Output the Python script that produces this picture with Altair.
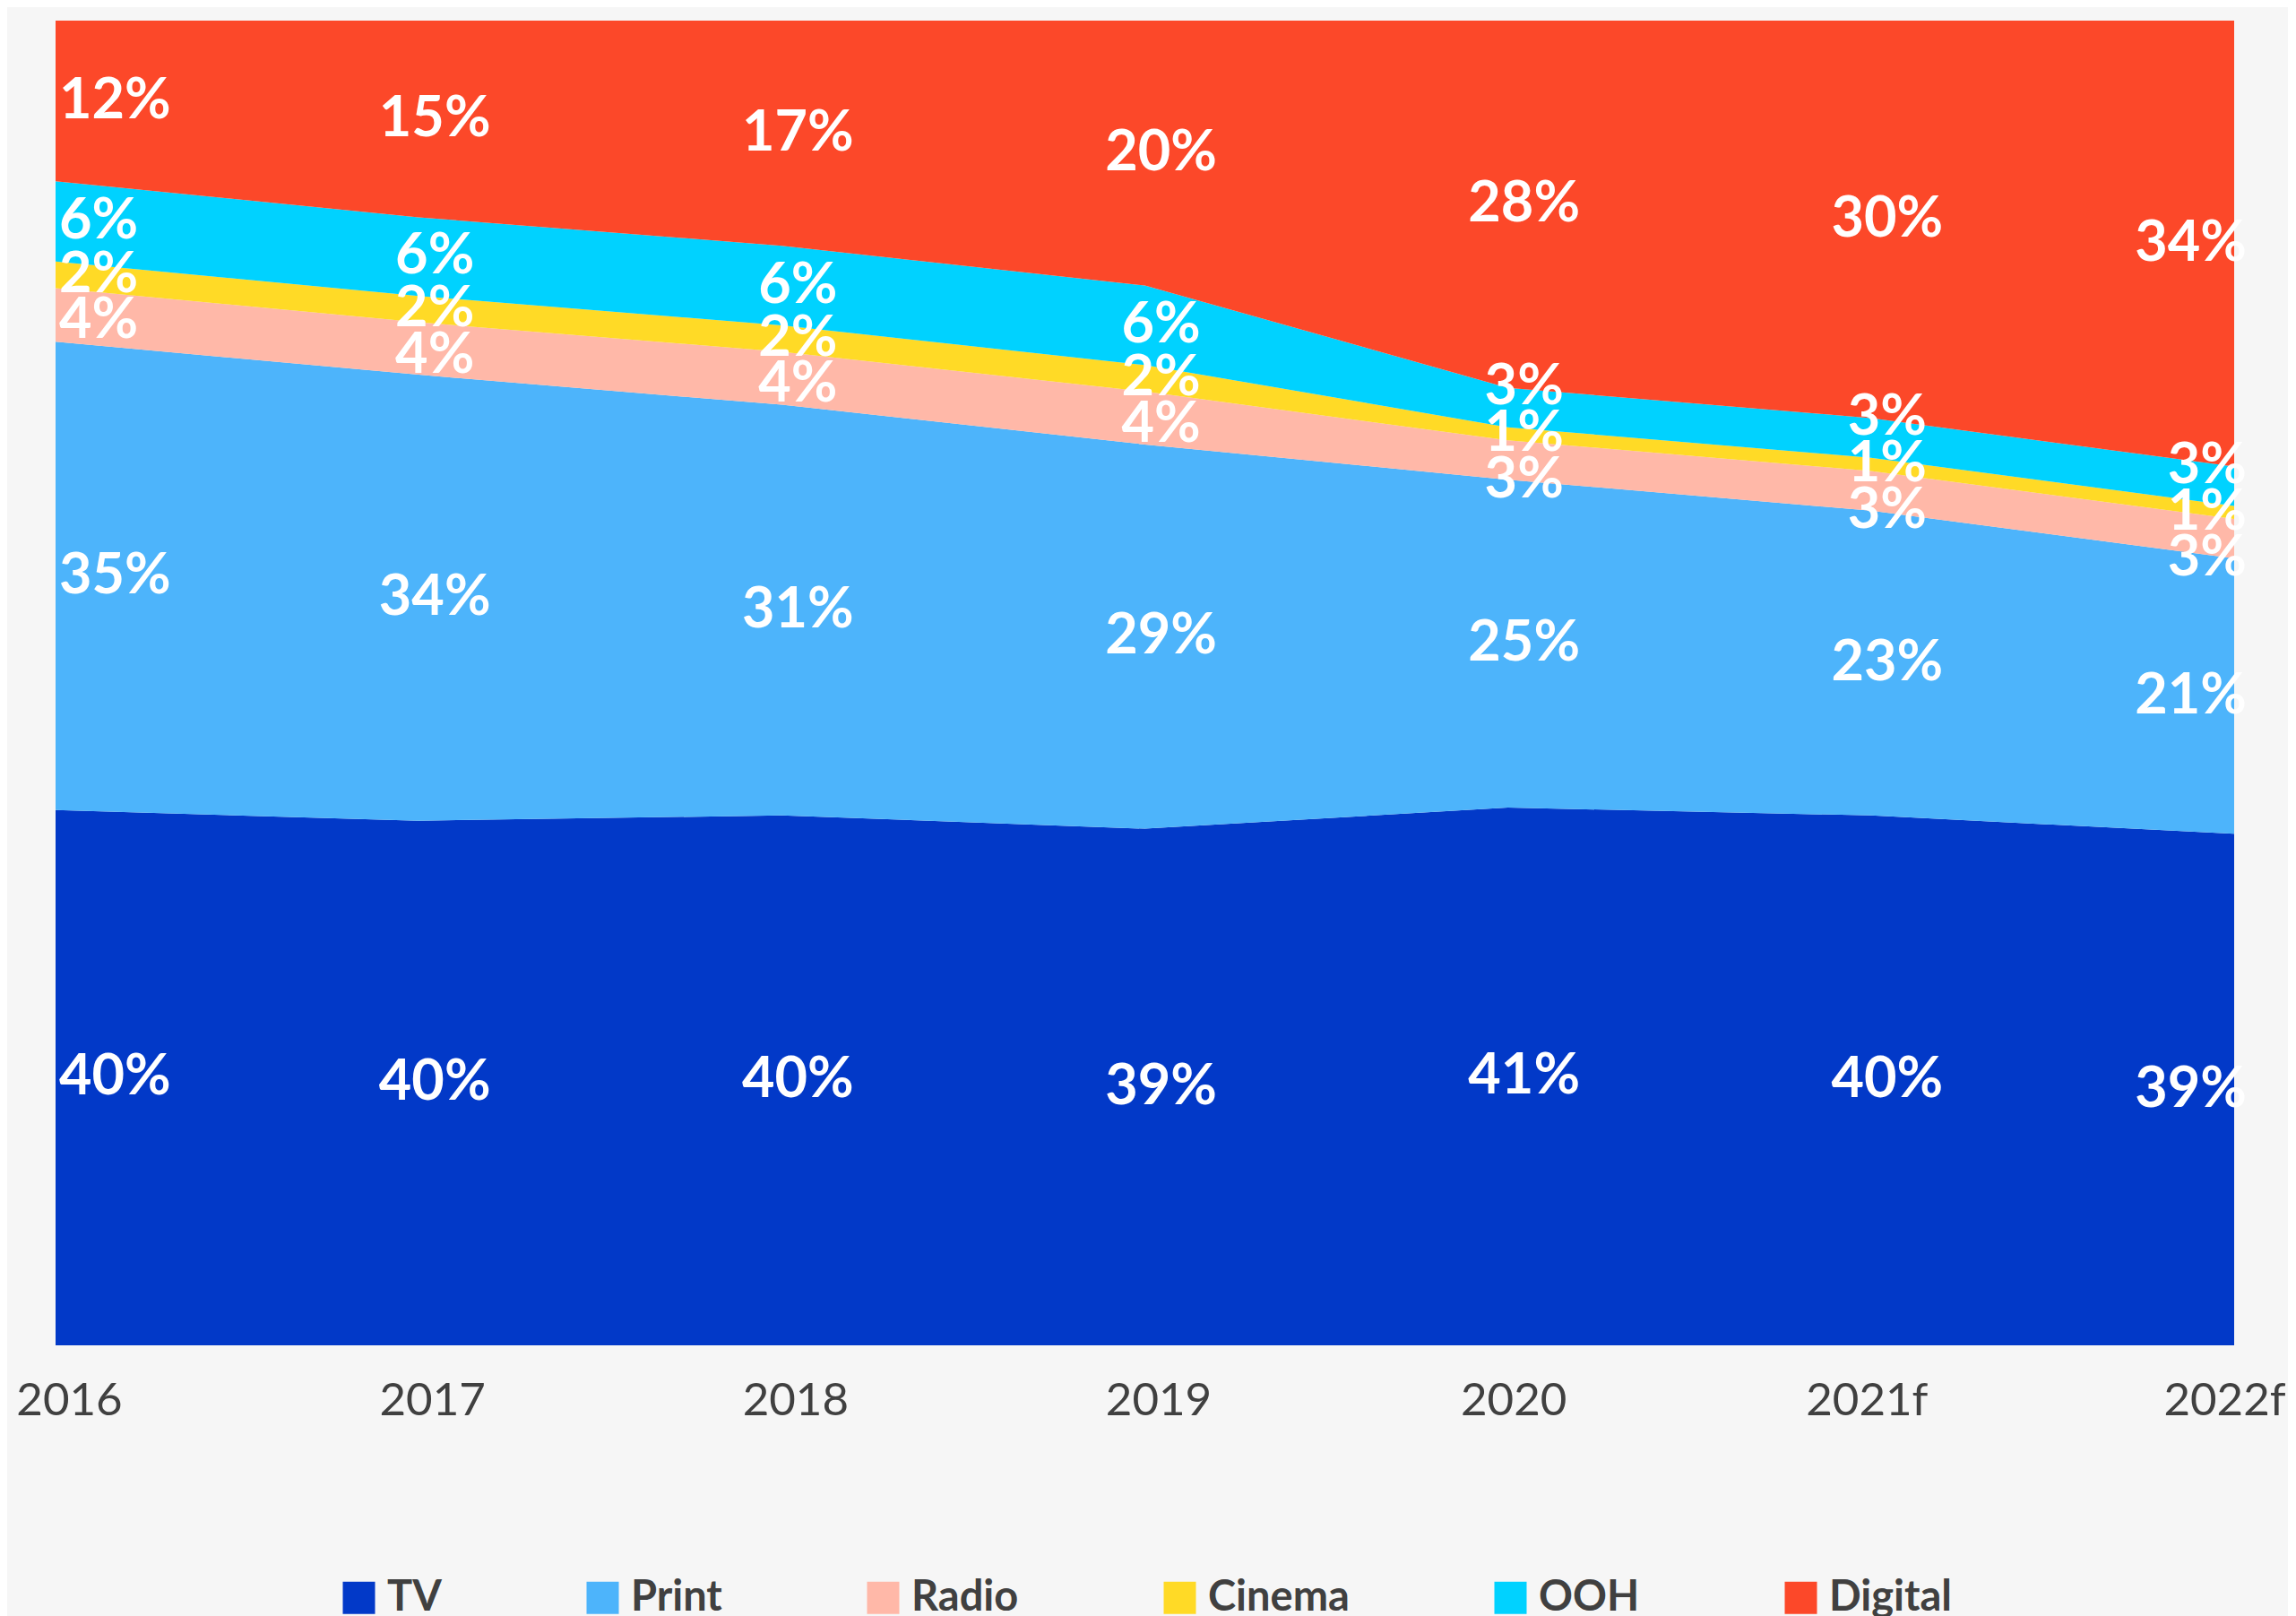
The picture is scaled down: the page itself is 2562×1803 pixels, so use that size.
import altair as alt
import pandas as pd

years = ["2016", "2017", "2018", "2019", "2020", "2021f", "2022f"]
media = ["TV", "Print", "Radio", "Cinema", "OOH", "Digital"]
tv = [40, 40, 40, 39, 41, 40, 39]
print_ = [35, 34, 31, 29, 25, 23, 21]
radio = [4, 4, 4, 4, 3, 3, 3]
cinema = [2, 2, 2, 2, 1, 1, 1]
ooh = [6, 6, 6, 6, 3, 3, 3]
digital = [12, 15, 17, 20, 28, 30, 34]
colors = ["#0239C8", "#4DB4FB", "#FFB8A8", "#FFDA26", "#00D2FF", "#FC4829"]

series = [tv, print_, radio, cinema, ooh, digital]
rows = []
for k, (m, vals) in enumerate(zip(media, series)):
    for y, v in zip(years, vals):
        rows.append({"year": y, "medium": m, "order": k, "value": v})
df = pd.DataFrame(rows)

FONT = "Lato"
GAP = 0.035  # minimum label spacing for the thin bands (fraction of total)

base = (
    alt.Chart(df)
    .transform_joinaggregate(total="sum(value)", groupby=["year"])
    .transform_calculate(pct="datum.value / datum.total")
    .transform_window(top="sum(pct)", groupby=["year"], sort=[alt.SortField("order")])
    .transform_calculate(
        bottom="datum.top - datum.pct",
        mid="datum.top - datum.pct / 2",
        label="datum.value + '%'",
    )
    .transform_calculate(cm_tmp="datum.medium == 'Cinema' ? datum.mid : null")
    .transform_joinaggregate(cm="max(cm_tmp)", groupby=["year"])
    .transform_calculate(
        ly=f"datum.medium == 'Radio' ? min(datum.mid, datum.cm - {GAP}) : "
        f"datum.medium == 'OOH' ? max(datum.mid, datum.cm + {GAP}) : datum.mid"
    )
)

x_enc = alt.X(
    "year:O",
    sort=years,
    scale=alt.Scale(type="point", padding=0),
    axis=alt.Axis(
        title=None,
        labelAngle=0,
        ticks=False,
        domain=False,
        grid=False,
        labelFont=FONT,
        labelFontSize=51,
        labelColor="#404040",
        labelPadding=37,
        labelOffset=alt.ExprRef(
            "datum.index == 1 ? -11 : datum.index > 0.8 ? -5 : datum.index > 0.6 ? 6 : 15"
        ),
    ),
)
y_scale = alt.Scale(domain=[0, 1], nice=False, zero=True)

area = base.mark_area(interpolate="linear", opacity=1).encode(
    x=x_enc,
    y=alt.Y("top:Q", scale=y_scale, axis=None),
    y2="bottom:Q",
    color=alt.Color(
        "medium:N",
        scale=alt.Scale(domain=media, range=colors),
        legend=alt.Legend(
            title=None,
            orient="none",
            direction="horizontal",
            legendX=315,
            legendY=1736,
            symbolType="square",
            symbolSize=1296,
            symbolStrokeWidth=0,
            symbolOpacity=1,
            labelFont=FONT,
            labelFontSize=47,
            labelFontWeight="bold",
            labelColor="#404040",
            labelOffset=8,
            columnPadding=156,
            labelLimit=400,
        ),
    ),
)

def text_layer(filter_expr, align, dx):
    return (
        base.transform_filter(filter_expr)
        .mark_text(
            font=FONT,
            fontSize=63,
            fontWeight="bold",
            color="white",
            align=align,
            baseline="middle",
            dx=dx,
        )
        .encode(
            x=alt.X("year:O", sort=years),
            y=alt.Y("ly:Q", scale=y_scale),
            text="label:N",
        )
    )

first = text_layer(alt.datum.year == years[0], "left", 4)
last = text_layer(alt.datum.year == years[-1], "right", 14)
middle = text_layer(
    (alt.datum.year != years[0]) & (alt.datum.year != years[-1]), "center", 18
)

chart = (
    alt.layer(area, first, middle, last)
    .properties(
        width=2431,
        height=1478,
        background="#F6F6F6",
        padding={"left": 54, "top": 15, "right": 60, "bottom": 302},
        autosize=alt.AutoSizeParams(type="none"),
    )
    .configure_view(strokeWidth=0)
)

chart.save("out.html", embed_options={"renderer": "svg", "actions": False})
